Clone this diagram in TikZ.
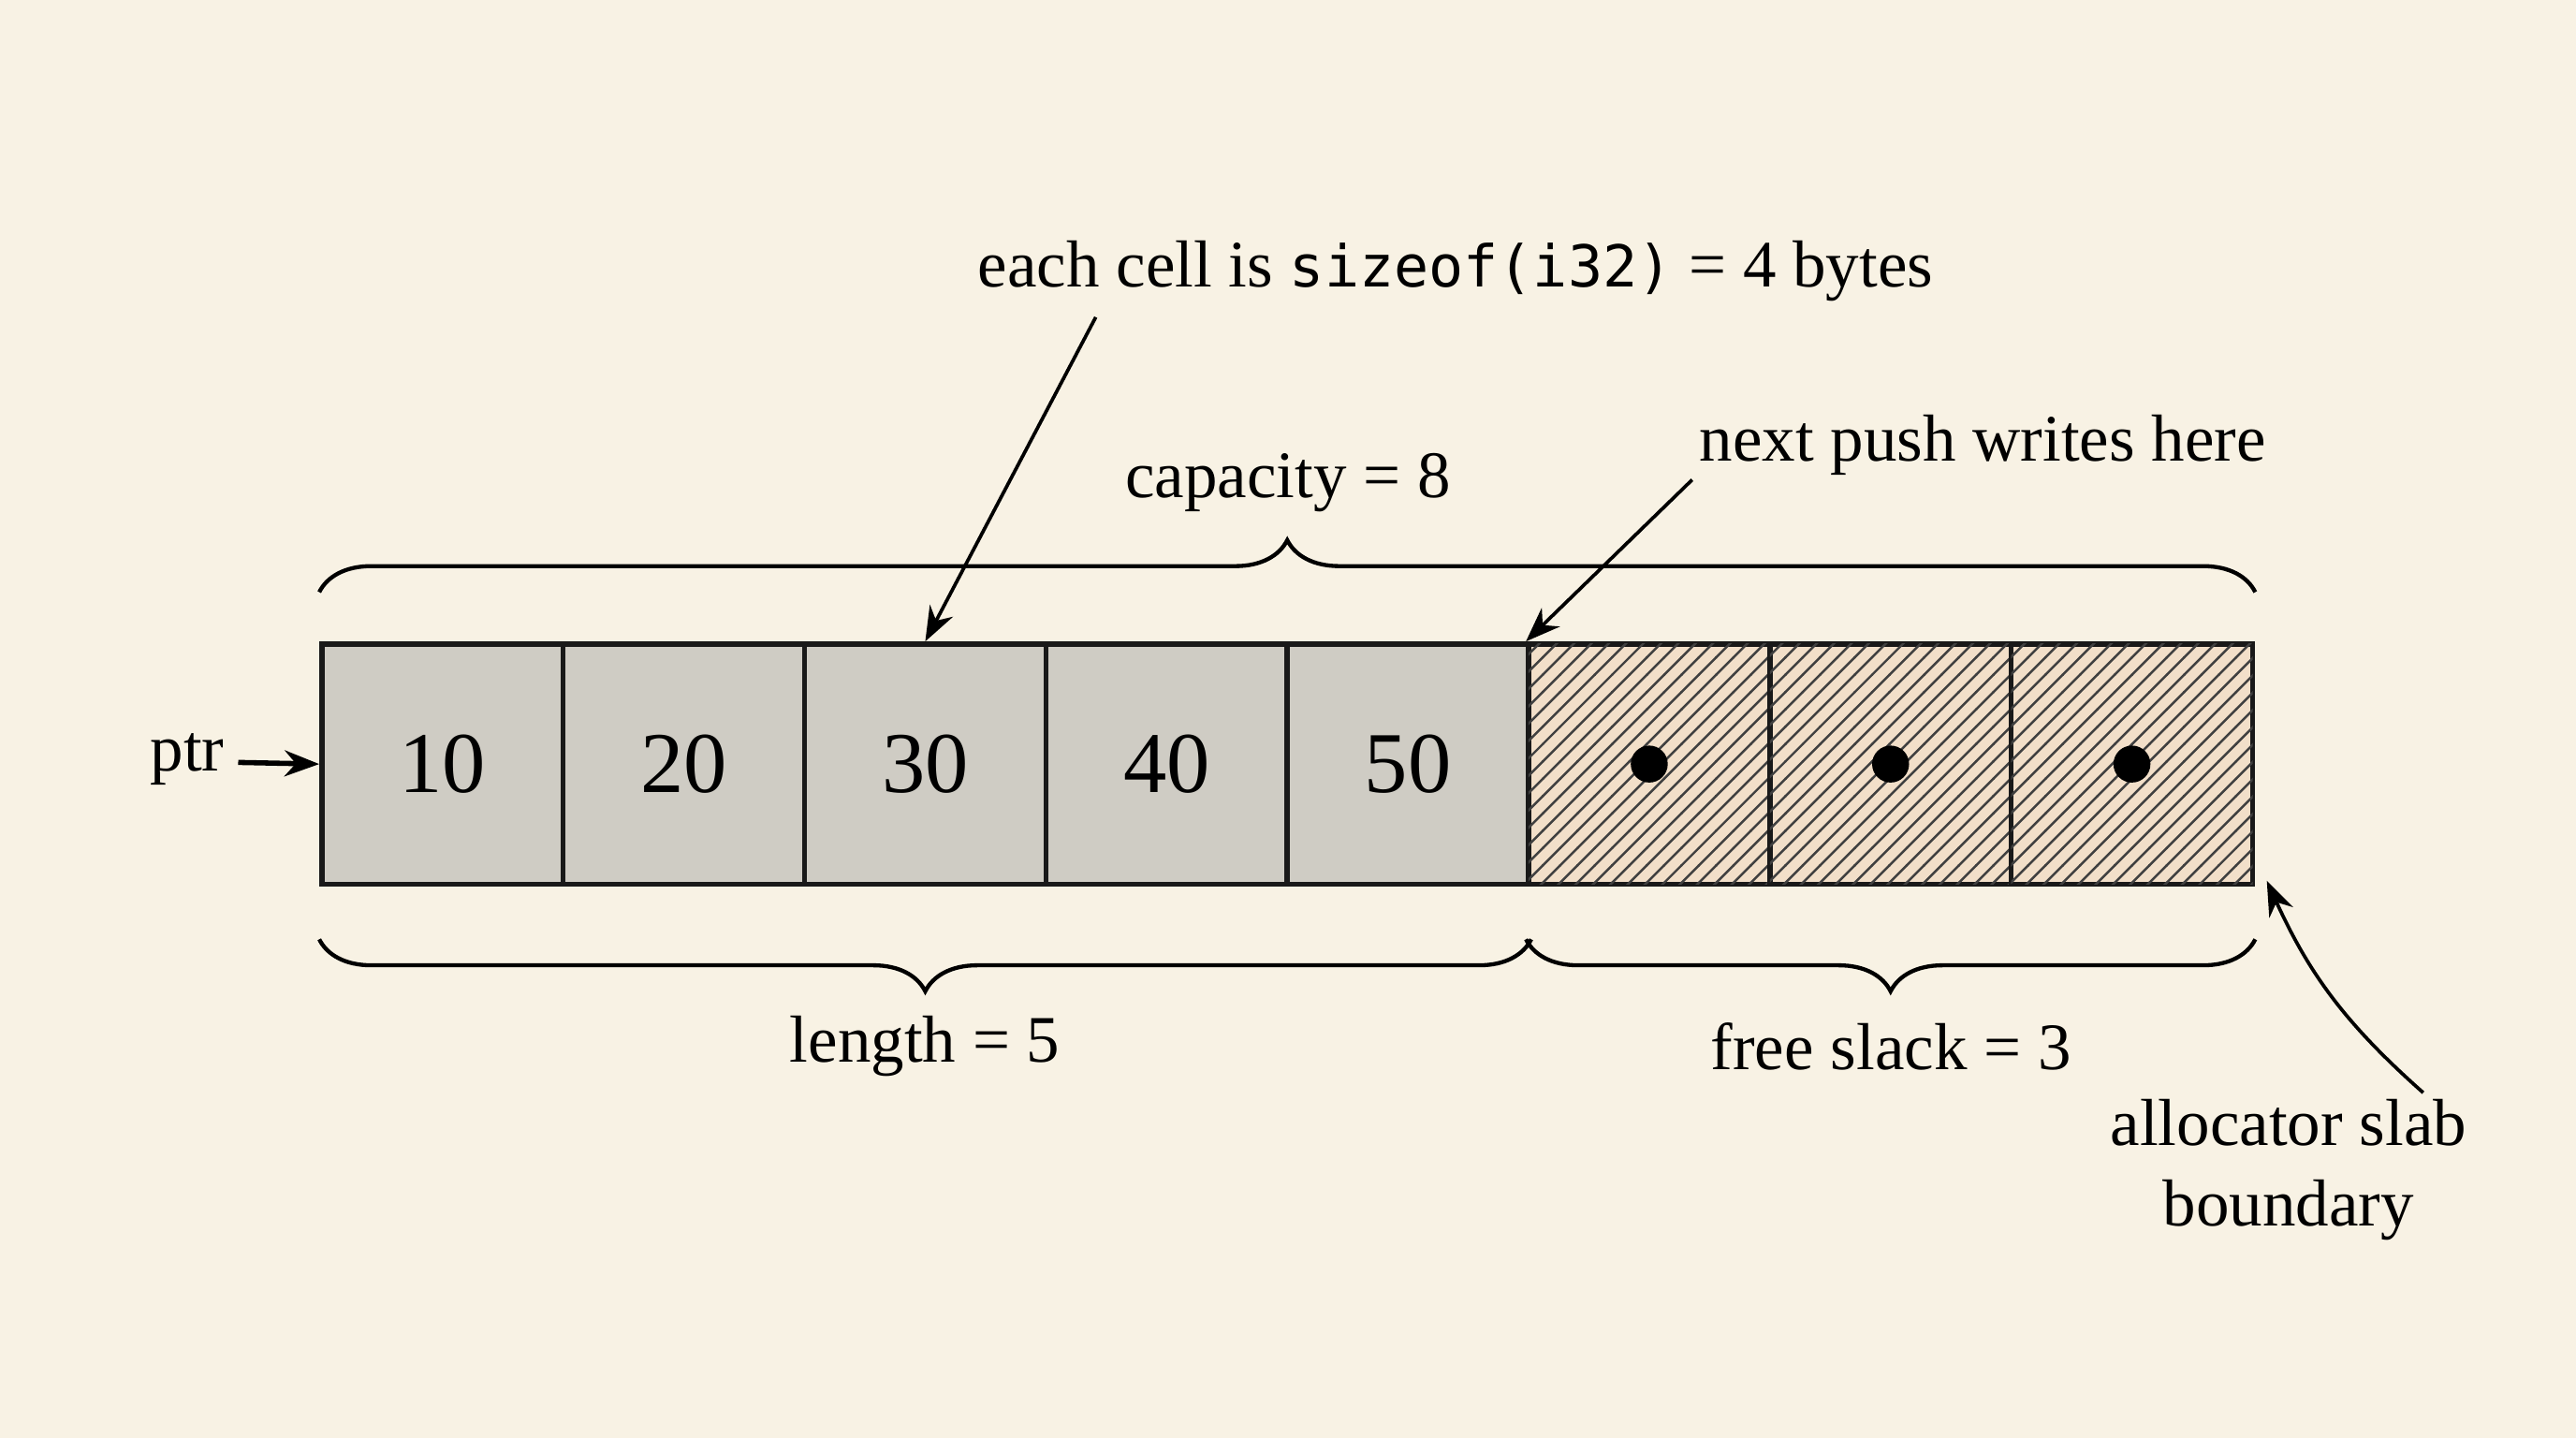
\documentclass[tikz,border=0pt]{standalone}
\usepackage{fontspec}
\setmainfont{Liberation Serif}
\setmonofont{DejaVu Sans Mono}
\usetikzlibrary{decorations.pathreplacing,patterns,arrows.meta}
\definecolor{bg}{HTML}{F8F2E4}
\definecolor{cellg}{HTML}{CFCCC4}
\definecolor{cellh}{HTML}{F2DFC9}
\begin{document}
\begin{tikzpicture}[x=0.01cm,y=-0.01cm,
 cell/.style={draw=black!90,line width=0.9pt,minimum width=1.469cm,minimum height=1.46cm,inner sep=0,font=\fontsize{15}{18}\selectfont},
 used/.style={cell,fill=cellg},
 slack/.style={cell,fill=cellh,postaction={pattern=north east lines,pattern color=black!75}},
 lbl/.style={font=\fontsize{11.5}{14}\selectfont,align=center},
 arr/.style={-{Stealth[length=6pt]},line width=0.6pt},
 br/.style={decorate,decoration={brace,amplitude=9pt},line width=0.7pt}]
\fill[bg] (0,0) rectangle (1568,875);
\useasboundingbox (0,0) rectangle (1568,875);
\foreach \i/\v in {0/10,1/20,2/30,3/40,4/50}
  \node[used] (c\i) at ({196+73.4+146.9*\i},465) {\v};
\foreach \i in {5,6,7}{
  \node[slack] (c\i) at ({196+73.4+146.9*\i},465) {};
  \fill (c\i.center) circle (3.2pt);}
\draw[br] ([yshift=0.3cm]c0.north west) -- ([yshift=0.3cm]c7.north east);
\node[lbl] (cap) at (784,294) {capacity = 8};
\draw[br] ([yshift=-0.32cm]c4.south east) -- ([yshift=-0.32cm]c0.south west);
\draw[br] ([yshift=-0.32cm]c7.south east) -- ([yshift=-0.32cm]c5.south west);
\node[lbl] (len) at (563,637) {length = 5};
\node[lbl] (fs) at (1151,637) {free slack = 3};
\node[lbl] (each) at (886,165) {each cell is \texttt{\fontsize{10}{14}\selectfont sizeof(i32)} = 4 bytes};
\coordinate (ea) at (667,193);
\draw[arr] (ea) -- (c2.north);
\node[lbl] (next) at (1207,271) {next push writes here};
\coordinate (na) at (1030,292);
\draw[arr] (na) -- (c5.north west);
\node[lbl] (ptr) at (114,462) {ptr};
\coordinate (pa) at (145,464);
\draw[arr,line width=0.9pt] (pa) -- (c0.west);
\node[lbl] (alloc) at (1393,712) {allocator slab\\boundary};
\coordinate (aa) at (1475,665);
\draw[arr] (aa) to[bend left=12] ([shift={(2pt,1pt)}]c7.south east);
\end{tikzpicture}
\end{document}
